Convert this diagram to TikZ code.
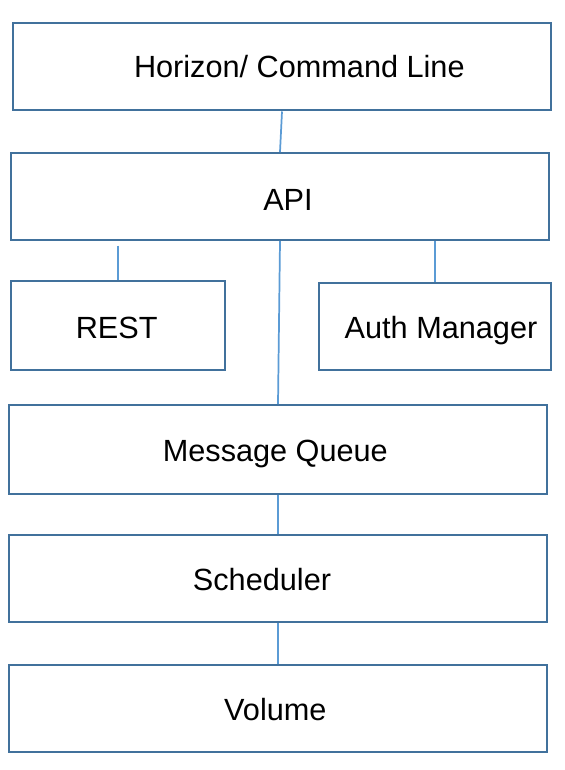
\documentclass[tikz,border=0pt]{standalone}
\usepackage{fontspec}
\setmainfont{Liberation Sans}
\usetikzlibrary{positioning}

\definecolor{boxblue}{HTML}{41719C}
\definecolor{linkblue}{HTML}{5B9BD5}

\tikzset{
  layer/.style={draw=boxblue, line width=1.5pt, minimum height=87*0.75pt, inner sep=0pt},
  wide/.style={layer, minimum width=538*0.75pt},
  txt/.style={font=\fontsize{23}{27}\selectfont, text=black},
  link/.style={draw=linkblue, line width=1.3pt}
}

\begin{document}
\begin{tikzpicture}[x=0.75pt, y=-0.75pt]
  \useasboundingbox (0,0) rectangle (564,770);
  % stack of layers
  \node[wide] (horizon) at (282,67) {};
  \node[wide] (api) at (280,196.5) {};
  \node[layer, minimum width=214*0.75pt, minimum height=89*0.75pt] (rest) at (118,325.5) {};
  \node[layer, minimum width=232*0.75pt] (auth) at (435,326.5) {};
  \node[wide, minimum height=89*0.75pt] (mq) at (278,449.5) {};
  \node[wide] (sched) at (278,578.5) {};
  \node[wide] (vol) at (278,708.5) {};
  % labels
  \node[txt, xshift=13pt, yshift=0pt] (horizonlbl) at (horizon) {Horizon/ Command Line};
  \node[txt, xshift=6pt, yshift=-2.5pt] (apilbl) at (api) {API};
  \node[txt, xshift=-1pt, yshift=-2pt] (restlbl) at (rest) {REST};
  \node[txt, xshift=4.5pt, yshift=-3pt] (authlbl) at (auth) {Auth Manager};
  \node[txt, xshift=-2pt, yshift=-3pt] (mqlbl) at (mq) {Message Queue};
  \node[txt, xshift=-12pt, yshift=-1pt] (schedlbl) at (sched) {Scheduler};
  \node[txt, xshift=-2pt, yshift=-1pt] (vollbl) at (vol) {Volume};
  % connectors
  \draw[link] (horizon.south) -- (api.north);
  \draw[link, shorten <=3.5pt] (api.south -| rest.north) -- (rest.north);
  \draw[link] (api.south -| auth.north) -- (auth.north);
  \draw[link] (api.south) -- (mq.north);
  \draw[link] (mq.south) -- (sched.north);
  \draw[link] (sched.south) -- (vol.north);
\end{tikzpicture}
\end{document}
